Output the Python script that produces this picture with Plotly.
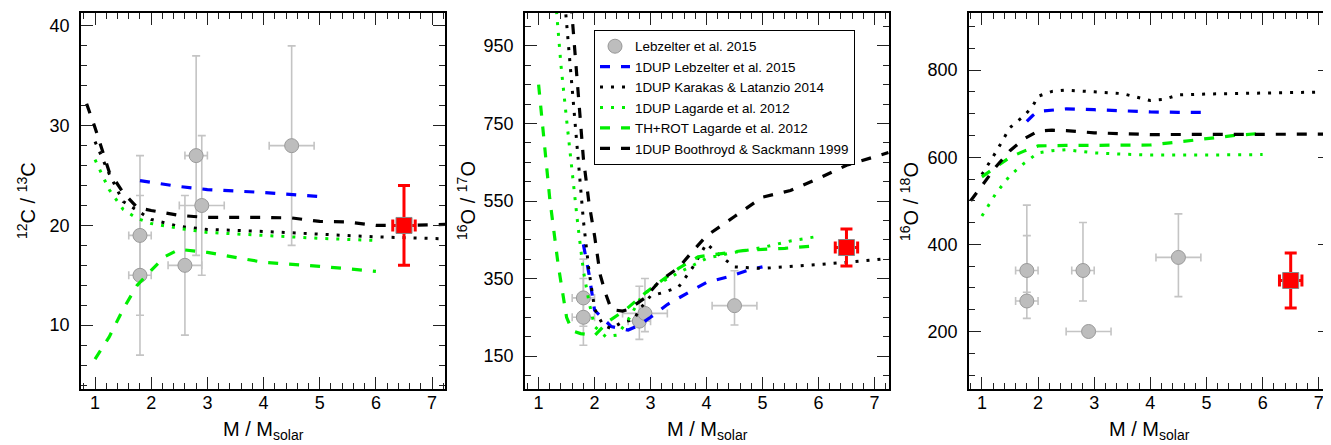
import plotly.graph_objects as go

# ---------------- observed data (Lebzelter et al. 2015) ----------------
obs_mass_c = [1.8, 1.8, 2.6, 2.8, 2.9, 4.5]
obs_mass_c_err = [0.2, 0.2, 0.3, 0.2, 0.4, 0.4]
obs_c = [19, 15, 16, 27, 22, 28]
obs_c_err = [8, 8, 7, 10, 7, 10]

obs_mass_o = [1.8, 1.8, 2.8, 2.9, 4.5]
obs_mass_o_err = [0.2, 0.2, 0.2, 0.4, 0.4]
obs_o17 = [300, 250, 240, 260, 280]
obs_o17_plus = [100, 100, 90, 90, 90]
obs_o17_minus = [73, 72, 47, 47, 50]
obs_o18 = [340, 270, 340, 200, 370]
obs_o18_plus = [150, 150, 110, 0, 100]
obs_o18_minus = [50, 40, 70, 0, 90]

# ---------------- this star ----------------
star_mass = [6.5]
star_mass_err = [0.2]
star_c = [20]
star_c_err = [4]
star_o17 = [430]
star_o17_err = [48]
star_o18 = [317]
star_o18_err = [63]

# ---------------- models: 12C/13C ----------------
leb_c_m = [1.8, 2.5, 3.0, 4.0, 5.0]
leb_c = [24.5, 23.9, 23.6, 23.3, 22.9]
kar_c_m = [1.0, 1.25, 1.5, 1.75, 2.0, 2.5, 3.0, 4.0, 5.0, 6.0, 7.0, 7.25]
kar_c = [28.4, 25.2, 22.4, 21.5, 20.6, 19.9, 19.6, 19.4, 19.1, 18.85, 18.7, 18.65]
lag_c_m = [1.0, 1.25, 1.5, 1.75, 2.0, 2.5, 3.0, 4.0, 5.0, 6.0]
lag_c = [26.6, 23.6, 21.6, 20.7, 20.2, 19.7, 19.3, 19.0, 18.7, 18.5]
rot_c_m = [1.0, 1.25, 1.5, 1.75, 2.0, 2.25, 2.5, 3.0, 4.0, 5.0, 6.0]
rot_c = [6.6, 8.8, 11.6, 14.0, 15.5, 16.9, 17.6, 17.3, 16.3, 15.9, 15.4]
boo_c_m = [0.85, 1.0, 1.25, 1.5, 1.75, 2.0, 2.5, 3.0, 4.0, 4.5, 5.0, 5.5, 6.0, 6.5, 7.25]
boo_c = [32.2, 29.8, 25.4, 23.3, 21.8, 21.5, 21.0, 20.8, 20.8, 20.75, 20.4, 20.35, 20.0, 20.0, 20.1]

# ---------------- models: 16O/17O ----------------
leb_o17_m = [1.8, 1.9, 2.0, 2.3, 2.6, 2.8, 3.0, 3.3, 3.7, 4.0, 4.4, 4.8, 5.0]
leb_o17 = [438, 362, 268, 226, 217, 230, 250, 283, 316, 340, 355, 374, 380]
kar_o17_m = [1.47, 1.6, 1.7, 1.8, 1.9, 2.0, 2.15, 2.3, 2.5, 2.7, 2.8, 3.0, 3.25, 3.5,
             3.75, 4.0, 4.25, 4.5, 5.0, 6.0, 7.0, 7.25]
kar_o17 = [1060, 830, 660, 500, 370, 272, 230, 221, 238, 243, 270, 305, 315, 328,
           378, 440, 408, 380, 376, 386, 398, 402]
lag_o17_m = [1.32, 1.4, 1.5, 1.6, 1.7, 1.8, 1.9, 2.0, 2.2, 2.4, 2.6, 2.85, 3.1, 3.5,
             4.0, 4.4, 5.0, 5.5, 6.0]
lag_o17 = [1040, 900, 760, 620, 490, 370, 290, 226, 200, 204, 243, 307, 333, 365,
           402, 415, 430, 447, 459]
rot_o17_m = [1.0, 1.2, 1.35, 1.5, 1.6, 1.75, 2.0, 2.25, 2.55, 2.9, 3.2, 3.5, 3.85,
             4.25, 4.65, 5.0, 5.4, 6.0]
rot_o17 = [850, 555, 385, 250, 215, 208, 203, 240, 269, 312, 345, 376, 406,
           415, 422, 425, 428, 435]
boo_o17_m = [1.58, 1.7, 1.8, 1.9, 2.0, 2.1, 2.2, 2.3, 2.5, 2.6, 2.9, 3.15, 3.5, 3.75,
             4.0, 4.5, 5.0, 5.5, 6.0, 6.5, 7.25]
boo_o17 = [1060, 840, 660, 545, 460, 360, 310, 270, 266, 270, 300, 342, 378, 420,
           460, 510, 560, 577, 608, 642, 675]

# ---------------- models: 16O/18O ----------------
leb_o18_m = [1.8, 1.9, 2.0, 2.5, 3.0, 3.5, 4.0, 4.5, 5.0]
leb_o18 = [682, 695, 705, 711, 709, 706, 704, 703, 703]
kar_o18_m = [1.0, 1.25, 1.5, 1.75, 1.9, 2.0, 2.25, 2.5, 3.0, 3.5, 3.75, 4.0, 4.25,
             4.5, 5.0, 6.0, 7.25]
kar_o18 = [560, 612, 668, 695, 716, 740, 751, 754, 750, 746, 738, 730, 733,
           743, 745, 747, 750]
lag_o18_m = [1.0, 1.25, 1.5, 1.75, 2.0, 2.25, 2.5, 3.0, 3.5, 4.0, 5.0, 6.0]
lag_o18 = [465, 517, 558, 586, 610, 615, 617, 610, 607, 605, 605, 606]
rot_o18_m = [1.0, 1.25, 1.5, 1.75, 2.0, 2.5, 3.0, 3.5, 4.0, 4.5, 5.0, 5.5, 6.0]
rot_o18 = [555, 578, 600, 614, 626, 627, 627, 627, 628, 635, 643, 650, 655]
boo_o18_m = [0.8, 1.0, 1.25, 1.5, 1.75, 2.0, 2.25, 2.5, 3.0, 4.0, 5.0, 6.0, 7.25]
boo_o18 = [500, 535, 578, 615, 642, 660, 662, 661, 656, 652, 652, 652, 653]

legend_names = ["Lebzelter et al. 2015", "1DUP Lebzelter et al. 2015",
                "1DUP Karakas & Latanzio 2014", "1DUP Lagarde et al. 2012",
                "TH+ROT Lagarde et al. 2012", "1DUP Boothroyd & Sackmann 1999"]

y_titles = ["<sup>12</sup>C / <sup>13</sup>C", "<sup>16</sup>O / <sup>17</sup>O",
            "<sup>16</sup>O / <sup>18</sup>O"]
x_title = "M / M<sub>solar</sub>"

BLUE = "#0000ff"
GREEN = "#00ee00"
BLACK = "#000000"
GRAY = "#bdbdbd"
FONT = "Liberation Sans, Arial, Helvetica, sans-serif"

DASH = "10px,11px"
DOT = "3px,8px"

model_styles = [
    (1, BLUE, DASH),
    (2, BLACK, DOT),
    (3, GREEN, DOT),
    (4, GREEN, DASH),
    (5, BLACK, DASH),
]

panels = [
    dict(obs_x=obs_mass_c, obs_xe=obs_mass_c_err, obs_y=obs_c, obs_yp=obs_c_err, obs_ym=obs_c_err,
         star_y=star_c, star_yp=star_c_err, star_ym=star_c_err,
         models=[(leb_c_m, leb_c), (kar_c_m, kar_c), (lag_c_m, lag_c), (rot_c_m, rot_c), (boo_c_m, boo_c)]),
    dict(obs_x=obs_mass_o, obs_xe=obs_mass_o_err, obs_y=obs_o17, obs_yp=obs_o17_plus, obs_ym=obs_o17_minus,
         star_y=star_o17, star_yp=star_o17_err, star_ym=star_o17_err,
         models=[(leb_o17_m, leb_o17), (kar_o17_m, kar_o17), (lag_o17_m, lag_o17), (rot_o17_m, rot_o17), (boo_o17_m, boo_o17)]),
    dict(obs_x=obs_mass_o, obs_xe=obs_mass_o_err, obs_y=obs_o18, obs_yp=obs_o18_plus, obs_ym=obs_o18_minus,
         star_y=star_o18, star_yp=star_o18_err, star_ym=star_o18_err,
         models=[(leb_o18_m, leb_o18), (kar_o18_m, kar_o18), (lag_o18_m, lag_o18), (rot_o18_m, rot_o18), (boo_o18_m, boo_o18)]),
]

fig = go.Figure()
for i, p in enumerate(panels):
    xa = "x" if i == 0 else f"x{i+1}"
    ya = "y" if i == 0 else f"y{i+1}"
    show = (i == 1)
    fig.add_trace(go.Scatter(
        x=p["obs_x"], y=p["obs_y"], xaxis=xa, yaxis=ya, mode="markers",
        name=legend_names[0], showlegend=show, legendrank=1,
        marker=dict(size=14, color=GRAY, line=dict(color="#999999", width=1)),
        error_y=dict(type="data", array=p["obs_yp"], arrayminus=p["obs_ym"], symmetric=False,
                     color="#c4c4c4", thickness=1.6, width=4),
        error_x=dict(type="data", array=p["obs_xe"], color="#c4c4c4", thickness=1.6, width=4),
    ))
    for (k, col, dash), (mx, my) in zip(model_styles, p["models"]):
        fig.add_trace(go.Scatter(
            x=mx, y=my, xaxis=xa, yaxis=ya, mode="lines",
            name=legend_names[k], showlegend=show, legendrank=k + 1,
            line=dict(color=col, width=3.2 if dash == DASH else 3, dash=dash),
        ))
    fig.add_trace(go.Scatter(
        x=star_mass, y=p["star_y"], xaxis=xa, yaxis=ya, mode="markers", showlegend=False,
        marker=dict(symbol="square", size=16, color="#ff0000", line=dict(color="#888888", width=1)),
        error_y=dict(type="data", array=p["star_yp"], arrayminus=p["star_ym"], symmetric=False,
                     color="#ff0000", thickness=3, width=6),
        error_x=dict(type="data", array=star_mass_err, color="#ff0000", thickness=3, width=6),
    ))

# page body has an 8px margin: the figure starts at (8, 8) in the window
OFF = 8
W, H = 1331 - OFF, 445 - OFF


def px(xp):
    return (xp - OFF) / W


def py(yp):
    return 1 - (yp - OFF) / H


xdoms = [(px(81), px(445)), (px(525), px(889)), (px(969), px(1330))]
ydom = (py(389), py(13))
xranges = [(0.75, 7.23), (0.757, 7.26), (0.77, 7.2)]
yranges = [(3.6, 41.3), (65, 1035), (68, 931)]
ymajor = [dict(tick0=0, dtick=10), dict(tick0=150, dtick=200), dict(tick0=0, dtick=200)]
yminor = [2, 50, 50]

common = dict(showline=True, linecolor="black", linewidth=1.5, mirror="ticks",
              ticks="inside", ticklen=12, tickwidth=1.4, tickcolor="#222222",
              showgrid=False, zeroline=False,
              tickfont=dict(family=FONT, size=18, color="black"))

layout = dict(width=W, height=H, margin=dict(l=0, r=0, t=0, b=0),
              paper_bgcolor="white", plot_bgcolor="white",
              font=dict(family=FONT, color="black"),
              legend=dict(x=px(594), y=py(30), xanchor="left", yanchor="top",
                          bordercolor="black", borderwidth=1, bgcolor="white",
                          font=dict(family=FONT, size=13.4, color="black"),
                          tracegroupgap=0, itemwidth=30))
annotations = []
for i in range(3):
    sx = "" if i == 0 else str(i + 1)
    layout["xaxis" + sx] = dict(common, domain=xdoms[i], anchor="y" + sx, range=list(xranges[i]),
                                tick0=0, dtick=1, ticklabelstandoff=-3,
                                minor=dict(ticks="inside", ticklen=6, tickwidth=1.2, tickcolor="#222222",
                                           tick0=0, dtick=0.2, showgrid=False))
    layout["yaxis" + sx] = dict(common, domain=ydom, anchor="x" + sx, range=list(yranges[i]),
                                ticklabelstandoff=6, **ymajor[i],
                                minor=dict(ticks="inside", ticklen=6, tickwidth=1.2, tickcolor="#222222",
                                           tick0=0, dtick=yminor[i], showgrid=False))
    cx = (xdoms[i][0] + xdoms[i][1]) / 2
    annotations.append(dict(text=x_title, x=cx, y=py(430), xref="paper", yref="paper",
                            xanchor="center", yanchor="middle", showarrow=False,
                            font=dict(family=FONT, size=20, color="black")))
ytx = [26, 466, 909]
for i in range(3):
    annotations.append(dict(text=y_titles[i], x=px(ytx[i]), y=py(201), xref="paper", yref="paper",
                            xanchor="center", yanchor="middle", textangle=-90, showarrow=False,
                            font=dict(family=FONT, size=20, color="black")))
layout["annotations"] = annotations
fig.update_layout(**layout)
fig.write_html("out.html")
